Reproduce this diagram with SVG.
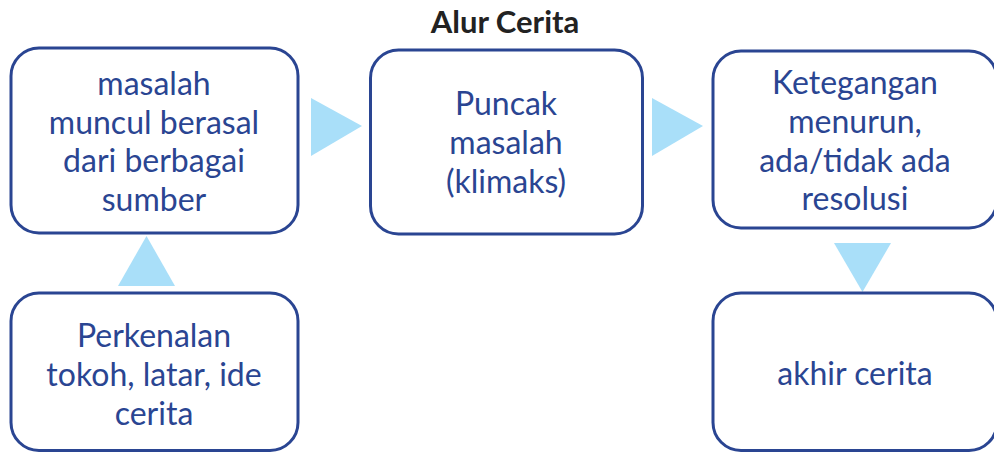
<svg xmlns="http://www.w3.org/2000/svg" width="994" height="452" viewBox="0 0 994 452">
<style>
.box{fill:#fff;stroke:#2a4592;stroke-width:3}
.t{font-family:Lato,"Open Sans","Liberation Sans",sans-serif;font-size:32px;fill:#2a4592;text-anchor:middle}
.title{font-family:Lato,"Open Sans","Liberation Sans",sans-serif;font-size:31px;font-weight:bold;fill:#222;text-anchor:middle}
.arr{fill:#a9dff9}
</style>
<rect width="994" height="452" fill="#fff"/>
<text class="title" x="505" y="33">Alur Cerita</text>
<g id="connectors">
<polygon class="arr" points="311,98 362,126 311,156"/>
<polygon class="arr" points="652,98 703,126 652,156"/>
<polygon class="arr" points="118,286 175,286 146.5,236"/>
<polygon class="arr" points="834,243 891,243 862.5,292"/>
</g>
<g id="masalah">
<rect class="box" x="11" y="48" width="287" height="185" rx="28"/>
<text class="t" x="154" y="95">masalah</text>
<text class="t" x="154" y="133.5">muncul berasal</text>
<text class="t" x="154" y="172">dari berbagai</text>
<text class="t" x="154" y="210.5">sumber</text>
</g>
<g id="puncak">
<rect class="box" x="370.5" y="50" width="272" height="184" rx="28"/>
<text class="t" x="506" y="115">Puncak</text>
<text class="t" x="506" y="154">masalah</text>
<text class="t" x="506" y="193">(klimaks)</text>
</g>
<g id="ketegangan">
<rect class="box" x="713" y="51" width="284" height="177" rx="28"/>
<text class="t" x="855" y="94">Ketegangan</text>
<text class="t" x="855" y="133">menurun,</text>
<text class="t" x="855" y="171.5">ada/tidak ada</text>
<text class="t" x="855" y="209.5">resolusi</text>
</g>
<g id="akhir">
<rect class="box" x="713" y="293" width="284" height="157.5" rx="28"/>
<text class="t" x="855" y="385">akhir cerita</text>
</g>
<g id="perkenalan">
<rect class="box" x="11" y="293" width="287" height="157.5" rx="28"/>
<text class="t" x="154" y="347">Perkenalan</text>
<text class="t" x="154" y="386">tokoh, latar, ide</text>
<text class="t" x="154" y="425">cerita</text>
</g>
</svg>
